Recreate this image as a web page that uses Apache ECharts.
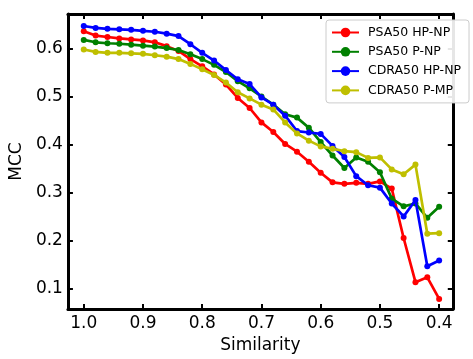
<!DOCTYPE html>
<html>
<head>
<meta charset="utf-8">
<script src="https://cdn.jsdelivr.net/npm/echarts@6/dist/echarts.min.js"></script>
<style>html,body{margin:0;padding:0;background:#fff}#c{width:473px;height:359px}</style>
</head>
<body>
<div id="c"></div>
<script>
var similarity = [1.00,0.98,0.96,0.94,0.92,0.90,0.88,0.86,0.84,0.82,0.80,0.78,0.76,0.74,0.72,0.70,0.68,0.66,0.64,0.62,0.60,0.58,0.56,0.54,0.52,0.50,0.48,0.46,0.44,0.42,0.40];
var psaHPNP  = [0.636,0.627,0.624,0.621,0.619,0.617,0.613,0.605,0.595,0.578,0.563,0.546,0.525,0.497,0.476,0.446,0.426,0.401,0.385,0.364,0.341,0.321,0.318,0.320,0.318,0.323,0.308,0.205,0.113,0.123,0.078];
var psaPNP   = [0.618,0.613,0.611,0.610,0.608,0.606,0.604,0.601,0.597,0.588,0.578,0.566,0.551,0.532,0.517,0.500,0.483,0.463,0.456,0.435,0.405,0.377,0.351,0.373,0.364,0.342,0.287,0.271,0.277,0.247,0.270];
var cdraHPNP = [0.647,0.643,0.641,0.640,0.639,0.637,0.635,0.631,0.626,0.609,0.591,0.575,0.555,0.536,0.526,0.498,0.483,0.460,0.428,0.425,0.422,0.397,0.374,0.334,0.315,0.310,0.277,0.250,0.284,0.146,0.158];
var cdraPMP  = [0.598,0.593,0.591,0.591,0.590,0.589,0.586,0.583,0.578,0.568,0.557,0.545,0.529,0.509,0.496,0.483,0.473,0.446,0.423,0.408,0.396,0.391,0.386,0.384,0.372,0.373,0.348,0.338,0.358,0.214,0.215];
var seriesNames = ['PSA50 HP-NP','PSA50 P-NP','CDRA50 HP-NP','CDRA50 P-MP'];
var seriesColors = ['#ff0000','#008000','#0000ff','#bfbf00'];
var xTicks = [1.0,0.9,0.8,0.7,0.6,0.5,0.4];
var yTicks = [0.1,0.2,0.3,0.4,0.5,0.6];

var allData = [psaHPNP, psaPNP, cdraHPNP, cdraPMP];
function pairs(arr){ return similarity.map(function(s,i){ return [s, arr[i]]; }); }

var font = 'DejaVu Sans';
var xMin = 0.377, xMax = 1.0267, yMin = 0.057, yMax = 0.672;

function xAxisDef(pos, show){
  return {
    type:'value', position:pos, inverse:true, min:xMin, max:xMax,
    name: show ? 'Similarity' : '', nameLocation:'middle', nameGap:28,
    nameTextStyle:{fontFamily:font,fontSize:17,color:'#000'},
    axisLine:{show:true,onZero:false,lineStyle:{color:'#000',width:3}},
    axisTick:{show:true,inside:true,length:5,lineStyle:{color:'#000',width:2},customValues:xTicks},
    axisLabel:{show:show,margin:6,fontFamily:font,fontSize:17,color:'#000',customValues:xTicks,
      formatter:function(v){return v.toFixed(1);}},
    splitLine:{show:false}
  };
}
function yAxisDef(pos, show){
  return {
    type:'value', position:pos, min:yMin, max:yMax,
    name: show ? 'MCC' : '', nameLocation:'middle', nameGap:33,
    nameTextStyle:{fontFamily:font,fontSize:17,color:'#000'},
    axisLine:{show:true,onZero:false,lineStyle:{color:'#000',width:3}},
    axisTick:{show:true,inside:true,length:5,lineStyle:{color:'#000',width:2},customValues:yTicks},
    axisLabel:{show:show,margin:5,fontFamily:font,fontSize:17,color:'#000',customValues:yTicks,
      formatter:function(v){return v.toFixed(1);}},
    splitLine:{show:false}
  };
}

var chart = echarts.init(document.getElementById('c'), null, {renderer:'canvas'});
chart.setOption({
  animation:false,
  backgroundColor:'#fff',
  grid:{left:66, right:1.5, top:14, bottom:43, containLabel:false},
  xAxis:[xAxisDef('bottom', true), xAxisDef('top', false)],
  yAxis:[yAxisDef('left', true), yAxisDef('right', false)],
  legend:{
    left:326, top:20, orient:'vertical',
    data:seriesNames,
    itemWidth:27, itemHeight:12, itemGap:6.3,
    padding:[6,8,6,5],
    backgroundColor:'rgba(255,255,255,0.9)',
    borderColor:'#cccccc', borderWidth:1, borderRadius:3,
    textStyle:{fontFamily:font,fontSize:12.5,color:'#000',padding:[0,0,0,4]}
  },
  series: allData.map(function(d,i){
    return {
      name:seriesNames[i], type:'line', data:pairs(d),
      symbol:'circle', symbolSize:6, showSymbol:true,
      color:seriesColors[i],
      lineStyle:{width:2.7,color:seriesColors[i]},
      itemStyle:{color:seriesColors[i]},
      z:2+i
    };
  })
});
</script>
</body>
</html>
